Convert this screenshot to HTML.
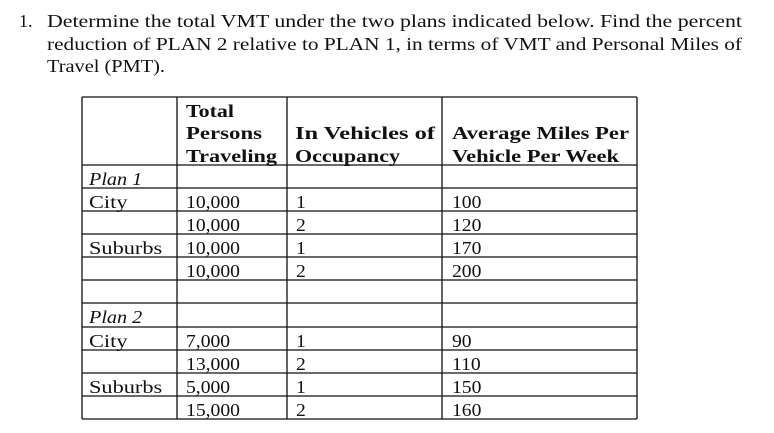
<!DOCTYPE html>
<html><head><meta charset="utf-8"><style>
html,body{margin:0;padding:0;background:#fff;}
svg{display:block;}
text{font-family:"Liberation Serif",serif;fill:#111;}
.q{font-size:18px;}
.h{font-size:17.5px;font-weight:bold;}
.d{font-size:18px;}
.i{font-style:italic;}
line{stroke:#111;stroke-width:1.3;}
</style></head><body>
<svg width="774" height="433" viewBox="0 0 774 433">
<g>
<text class="q" x="19" y="27">1.</text>
<text class="q" x="47" y="27" textLength="695" lengthAdjust="spacingAndGlyphs">Determine the total VMT under the two plans indicated below.  Find the percent</text>
<text class="q" x="47" y="50" textLength="695" lengthAdjust="spacingAndGlyphs">reduction of PLAN 2 relative to PLAN 1, in terms of VMT and Personal Miles of</text>
<text class="q" x="47" y="72" textLength="118" lengthAdjust="spacingAndGlyphs">Travel (PMT).</text>
</g>
<g id="grid"></g>
<g>
<text class="h" x="186" y="117" textLength="48" lengthAdjust="spacingAndGlyphs">Total</text>
<text class="h" x="186" y="139" textLength="76" lengthAdjust="spacingAndGlyphs">Persons</text>
<text class="h" x="186" y="162" textLength="91" lengthAdjust="spacingAndGlyphs">Traveling</text>
<text class="h" x="295" y="139" textLength="140" lengthAdjust="spacingAndGlyphs">In Vehicles of</text>
<text class="h" x="295" y="162" textLength="105" lengthAdjust="spacingAndGlyphs">Occupancy</text>
<text class="h" x="452" y="139" textLength="177" lengthAdjust="spacingAndGlyphs">Average Miles Per</text>
<text class="h" x="452" y="162" textLength="167" lengthAdjust="spacingAndGlyphs">Vehicle Per Week</text>
</g>
<g id="body"></g>
</svg>
<script>
const colX=[82,177,287,442,637];
const rowY=[97,165,188,211,234,257,280,303,327,350,373,396,419];
const labels=["Plan 1","City","","Suburbs","","","Plan 2","City","","Suburbs",""];
const persons=["","10,000","10,000","10,000","10,000","","","7,000","13,000","5,000","15,000"];
const occupancy=["","1","2","1","2","","","1","2","1","2"];
const miles=["","100","120","170","200","","","90","110","150","160"];
const NS="http://www.w3.org/2000/svg";
const grid=document.getElementById('grid');
colX.forEach(x=>{const l=document.createElementNS(NS,'line');


l.setAttribute('x1',x);l.setAttribute('x2',x);l.setAttribute('y1',97);l.setAttribute('y2',419);grid.appendChild(l);});
rowY.forEach(y=>{const l=document.createElementNS(NS,'line');


l.setAttribute('x1',82);l.setAttribute('x2',637);l.setAttribute('y1',y);l.setAttribute('y2',y);grid.appendChild(l);});
const body=document.getElementById('body');
const tx=[89,186,296,452];
function addText(s,x,y,cls,f){if(!s)return;const t=document.createElementNS(NS,'text');


t.setAttribute('x',x);t.setAttribute('y',y);t.setAttribute('class',cls);t.textContent=s;body.appendChild(t);
const w=t.getComputedTextLength();if(w>0){t.setAttribute('textLength',(w*f).toFixed(1));t.setAttribute('lengthAdjust','spacingAndGlyphs');}}
for(let r=0;r<labels.length;r++){const y=rowY[r+1]+20;
const lab=labels[r];addText(lab,tx[0],y,lab.startsWith('Plan')?'d i':'d',lab.startsWith('Plan')?1.12:1.24);
addText(persons[r],tx[1],y,'d',1.09);addText(occupancy[r],tx[2],y,'d',1.09);addText(miles[r],tx[3],y,'d',1.09);}
</script>
</body></html>
